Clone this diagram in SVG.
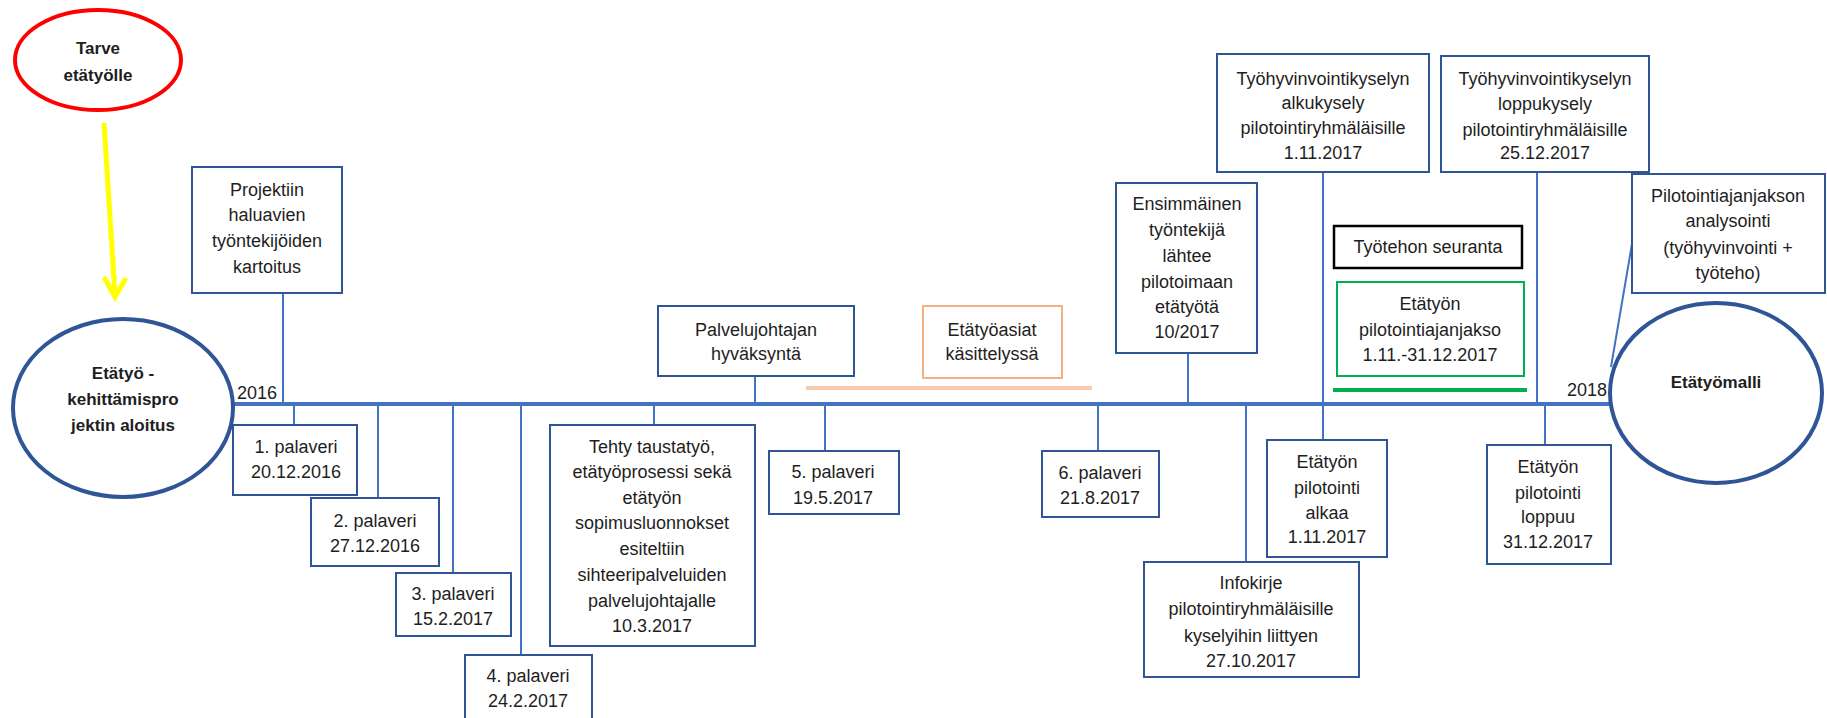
<svg xmlns="http://www.w3.org/2000/svg" width="1827" height="718" viewBox="0 0 1827 718">
<style>
text{font-family:"Liberation Sans",Arial,sans-serif;font-size:18px;fill:#1e1e1e;text-anchor:middle}
.b{font-weight:bold;font-size:17px}
.box{fill:#fff;stroke:#2f5597;stroke-width:2}
.peach{fill:#fff;stroke:#f4b183;stroke-width:2}
.blk{fill:#fff;stroke:#000;stroke-width:2.5}
.grn{fill:#fff;stroke:#00b050;stroke-width:2}
.conn{stroke:#4472c4;stroke-width:2;fill:none}
.circ{fill:#fff;stroke:#2f5597;stroke-width:4}
</style>
<rect width="1827" height="718" fill="#fff"/>
<g id="connectors">
<line x1="104" y1="123" x2="115" y2="295" stroke="#ffff00" stroke-width="5"/>
<polyline points="104,277 115,297 126,278" fill="none" stroke="#ffff00" stroke-width="5"/>
<line x1="806" y1="388" x2="1092" y2="388" stroke="#f8cbad" stroke-width="4"/>
<line x1="1333" y1="390" x2="1527" y2="390" stroke="#00b050" stroke-width="4"/>
<line class="conn" x1="283" y1="293" x2="283" y2="404"/>
<line class="conn" x1="294" y1="404" x2="294" y2="425"/>
<line class="conn" x1="378" y1="404" x2="378" y2="498"/>
<line class="conn" x1="453" y1="404" x2="453" y2="573"/>
<line class="conn" x1="521" y1="404" x2="521" y2="655"/>
<line class="conn" x1="654" y1="404" x2="654" y2="425"/>
<line class="conn" x1="755" y1="376" x2="755" y2="404"/>
<line class="conn" x1="825" y1="404" x2="825" y2="451"/>
<line class="conn" x1="1098" y1="404" x2="1098" y2="451"/>
<line class="conn" x1="1188" y1="353" x2="1188" y2="404"/>
<line class="conn" x1="1246" y1="404" x2="1246" y2="562"/>
<line class="conn" x1="1323" y1="172" x2="1323" y2="440"/>
<line class="conn" x1="1537" y1="172" x2="1537" y2="404"/>
<line class="conn" x1="1545" y1="404" x2="1545" y2="445"/>
<line class="conn" x1="1633" y1="238" x2="1611" y2="367" stroke-width="1.5"/>
<line x1="231" y1="404" x2="1612" y2="404" stroke="#4472c4" stroke-width="4"/>
</g>
<g id="tarve">
<ellipse cx="98" cy="60" rx="83" ry="50" fill="#fff" stroke="#ff0000" stroke-width="4"/>
<text class="b" x="98" y="54">Tarve</text>
<text class="b" x="98" y="81">etätyölle</text>
</g>
<g id="aloitus">
<ellipse class="circ" cx="123" cy="408" rx="110" ry="89"/>
<text class="b" x="123" y="379">Etätyö -</text>
<text class="b" x="123" y="405">kehittämispro</text>
<text class="b" x="123" y="431">jektin aloitus</text>
</g>
<g id="year2016"><text x="257" y="399">2016</text></g>
<g id="year2018"><text x="1587" y="396">2018</text></g>
<g id="projektiin">
<rect class="box" x="192" y="167" width="150" height="126"/>
<text x="267" y="196">Projektiin</text>
<text x="267" y="221">haluavien</text>
<text x="267" y="247">työntekijöiden</text>
<text x="267" y="273">kartoitus</text>
</g>
<g id="p1">
<rect class="box" x="233" y="425" width="124" height="70"/>
<text x="296" y="453">1. palaveri</text>
<text x="296" y="478">20.12.2016</text>
</g>
<g id="p2">
<rect class="box" x="311" y="498" width="128" height="68"/>
<text x="375" y="527">2. palaveri</text>
<text x="375" y="552">27.12.2016</text>
</g>
<g id="p3">
<rect class="box" x="396" y="573" width="115" height="63"/>
<text x="453" y="600">3. palaveri</text>
<text x="453" y="625">15.2.2017</text>
</g>
<g id="p4">
<rect class="box" x="465" y="655" width="127" height="70"/>
<text x="528" y="682">4. palaveri</text>
<text x="528" y="707">24.2.2017</text>
</g>
<g id="tehty">
<rect class="box" x="550" y="425" width="205" height="221"/>
<text x="652" y="453">Tehty taustatyö,</text>
<text x="652" y="478">etätyöprosessi sekä</text>
<text x="652" y="504">etätyön</text>
<text x="652" y="529">sopimusluonnokset</text>
<text x="652" y="555">esiteltiin</text>
<text x="652" y="581">sihteeripalveluiden</text>
<text x="652" y="607">palvelujohtajalle</text>
<text x="652" y="632">10.3.2017</text>
</g>
<g id="palvelujohtajan">
<rect class="box" x="658" y="306" width="196" height="70"/>
<text x="756" y="336">Palvelujohtajan</text>
<text x="756" y="360">hyväksyntä</text>
</g>
<g id="asiat">
<rect class="peach" x="923" y="306" width="139" height="72"/>
<text x="992" y="336">Etätyöasiat</text>
<text x="992" y="360">käsittelyssä</text>
</g>
<g id="p5">
<rect class="box" x="769" y="451" width="130" height="63"/>
<text x="833" y="478">5. palaveri</text>
<text x="833" y="504">19.5.2017</text>
</g>
<g id="p6">
<rect class="box" x="1042" y="451" width="117" height="66"/>
<text x="1100" y="479">6. palaveri</text>
<text x="1100" y="504">21.8.2017</text>
</g>
<g id="ensimmainen">
<rect class="box" x="1116" y="183" width="141" height="170"/>
<text x="1187" y="210">Ensimmäinen</text>
<text x="1187" y="236">työntekijä</text>
<text x="1187" y="262">lähtee</text>
<text x="1187" y="288">pilotoimaan</text>
<text x="1187" y="313">etätyötä</text>
<text x="1187" y="338">10/2017</text>
</g>
<g id="alkukysely">
<rect class="box" x="1217" y="54" width="212" height="118"/>
<text x="1323" y="85">Työhyvinvointikyselyn</text>
<text x="1323" y="109">alkukysely</text>
<text x="1323" y="134">pilotointiryhmäläisille</text>
<text x="1323" y="159">1.11.2017</text>
</g>
<g id="loppukysely">
<rect class="box" x="1441" y="56" width="208" height="116"/>
<text x="1545" y="85">Työhyvinvointikyselyn</text>
<text x="1545" y="110">loppukysely</text>
<text x="1545" y="136">pilotointiryhmäläisille</text>
<text x="1545" y="159">25.12.2017</text>
</g>
<g id="tyoteho">
<rect class="blk" x="1334" y="226" width="188" height="42"/>
<text x="1428" y="253">Työtehon seuranta</text>
</g>
<g id="pilotointijakso">
<rect class="grn" x="1337" y="282" width="187" height="94"/>
<text x="1430" y="310">Etätyön</text>
<text x="1430" y="336">pilotointiajanjakso</text>
<text x="1430" y="361">1.11.-31.12.2017</text>
</g>
<g id="infokirje">
<rect class="box" x="1144" y="562" width="215" height="115"/>
<text x="1251" y="589">Infokirje</text>
<text x="1251" y="615">pilotointiryhmäläisille</text>
<text x="1251" y="642">kyselyihin liittyen</text>
<text x="1251" y="667">27.10.2017</text>
</g>
<g id="alkaa">
<rect class="box" x="1267" y="440" width="120" height="117"/>
<text x="1327" y="468">Etätyön</text>
<text x="1327" y="494">pilotointi</text>
<text x="1327" y="519">alkaa</text>
<text x="1327" y="543">1.11.2017</text>
</g>
<g id="loppuu">
<rect class="box" x="1487" y="445" width="124" height="119"/>
<text x="1548" y="473">Etätyön</text>
<text x="1548" y="499">pilotointi</text>
<text x="1548" y="523">loppuu</text>
<text x="1548" y="548">31.12.2017</text>
</g>
<g id="analysointi">
<rect class="box" x="1632" y="174" width="193" height="119"/>
<text x="1728" y="202">Pilotointiajanjakson</text>
<text x="1728" y="227">analysointi</text>
<text x="1728" y="254">(työhyvinvointi +</text>
<text x="1728" y="279">työteho)</text>
</g>
<g id="etatyomalli">
<ellipse class="circ" cx="1716" cy="393" rx="106" ry="90"/>
<text class="b" x="1716" y="388">Etätyömalli</text>
</g>
</svg>
